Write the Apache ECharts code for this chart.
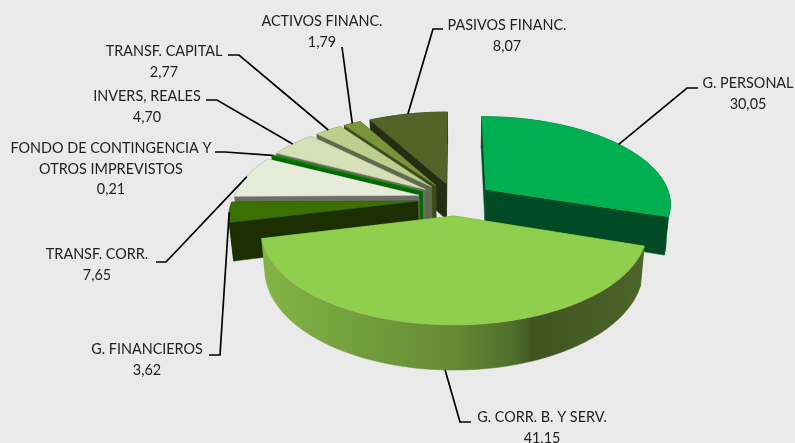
<!DOCTYPE html>
<html><head><meta charset="utf-8">
<style>html,body{margin:0;padding:0;background:#eaeaea}#c{width:795px;height:443px}</style>
<script src="https://cdn.jsdelivr.net/npm/echarts@6/dist/echarts.min.js"></script>
</head><body><div id="c"></div>
<script>
const categories = ['G. PERSONAL','G. CORR. B. Y SERV.','G. FINANCIEROS','TRANSF. CORR.','FONDO DE CONTINGENCIA Y\nOTROS IMPREVISTOS','INVERS, REALES','TRANSF. CAPITAL','ACTIVOS FINANC.','PASIVOS FINANC.'];
const values = [30.05,41.15,3.62,7.65,0.21,4.70,2.77,1.79,8.07];
const valueLabels = ['30,05','41,15','3,62','7,65','0,21','4,70','2,77','1,79','8,07'];

// styles
const topColors  = ['#00AF50','#8FCF4D','#3B7100','#E6ECD9','#0A8C0A','#D4E1B6','#BDCF8F','#78953C','#556227'];
const wallColors = ['#004B26','#6A8F38','#1B2F00','#6E6E68','#006A00','#6A6E5A','#5F6A4C','#3C4A1E','#272D12'];
// label layout: text centre x, first line centre y, knee x, knee y, end x (px)
const labelLayout = [
  [748,83.5,687,88,698],[542,417.5,460,422,471],[147,349.5,220,355,209],[97,254.5,166,262,156],
  [111,148.5,225,152,215],[147,96.5,217,100,206],[164,51.5,239,55,228],[322,21.5,null,null,342],[507,25.5,433,29,443]
];
// projection
const CX=455.5, CY=199, RX=185, RZ=86.7, PERSP=0.152, EXPLODE_X=0.205, EXPLODE_Z=0.19, DEPTH=37, LOWER_SHRINK=0.98;
const FONT='Lato', FS=14.4, LINE_H=20.5;

const total = values.reduce((a,b)=>a+b,0);
const slices = []; let acc=0;
values.forEach(v=>{const a0=acc/total*2*Math.PI; acc+=v; const a1=acc/total*2*Math.PI; slices.push({a0,a1,mid:(a0+a1)/2});});
const order = slices.map((s,i)=>i).sort((p,q)=>Math.cos(slices[q].mid)-Math.cos(slices[p].mid));
const rank = []; order.forEach((idx,r)=>rank[idx]=r);

function project(X,Z,lower){
  const s=1/(1+PERSP*Z);
  return [CX+RX*X*s*(lower?LOWER_SHRINK:1), CY-RZ*Z*s+(lower?DEPTH*s:0)];
}
function point(sl,theta,r,lower){
  return project(EXPLODE_X*Math.sin(sl.mid)+r*Math.sin(theta), EXPLODE_Z*Math.cos(sl.mid)+r*Math.cos(theta), lower);
}
function arc(sl,lower){
  const n=Math.max(2,Math.ceil((sl.a1-sl.a0)/0.02)), pts=[];
  for(let i=0;i<=n;i++) pts.push(point(sl,sl.a0+(sl.a1-sl.a0)*i/n,1,lower));
  return pts;
}
function wallFill(i){
  if(i!==1) return wallColors[i];
  const l=point(slices[1],slices[1].a1,1,false)[0], r=point(slices[1],slices[1].a0,1,false)[0];
  return {type:'linear',global:true,x:l,y:0,x2:r,y2:0,colorStops:[
    {offset:0,color:'#85B545'},{offset:.25,color:'#739E3D'},{offset:.5,color:'#658A36'},
    {offset:.66,color:'#4F6E2B'},{offset:.71,color:'#3F5522'},{offset:1,color:'#4B6428'}]};
}
function renderSlice(params){
  const i=params.dataIndex, sl=slices[i], z=rank[i]*10;
  const up=arc(sl,false), low=arc(sl,true);
  const ap=point(sl,0,0,false), apL=point(sl,0,0,true);
  const wall=(pts,fill,k)=>({type:'polygon',z2:z+k,shape:{points:pts},style:{fill,stroke:fill,lineWidth:.5}});
  return {type:'group',children:[
    wall([ap,up[0],low[0],apL],wallColors[i],1),
    wall([ap,up[up.length-1],low[low.length-1],apL],wallColors[i],2),
    wall(up.concat(low.slice().reverse()),wallFill(i),3),
    wall([ap].concat(up),topColors[i],4)
  ]};
}
function renderLabel(params){
  const i=params.dataIndex, sl=slices[i], L=labelLayout[i];
  const front=Math.cos(sl.mid)<-0.5;
  const st=point(sl,sl.mid,1,front);
  const pts=L[2]===null?[st,[L[4],47]]:[st,[L[2],L[3]],[L[4],L[3]]];
  const lines=categories[i].split('\n').concat([valueLabels[i]]);
  const kids=[{type:'polyline',z2:1000,shape:{points:pts},style:{fill:null,stroke:'#000',lineWidth:1.7}}];
  lines.forEach((t,j)=>kids.push({type:'text',z2:1001,style:{text:t,x:L[0],y:L[1]+j*LINE_H,align:'center',verticalAlign:'middle',fontFamily:FONT,fontSize:FS,fill:'#222'}}));
  return {type:'group',children:kids};
}
const data=categories.map((c,i)=>({name:c,value:values[i]}));
const chart=echarts.init(document.getElementById('c'),null,{renderer:'canvas'});
chart.setOption({
  backgroundColor:'#eaeaea',animation:false,
  series:[
    {type:'custom',coordinateSystem:'none',renderItem:renderSlice,data,silent:true},
    {type:'custom',coordinateSystem:'none',renderItem:renderLabel,data,silent:true,z:3}
  ]
});
</script></body></html>
